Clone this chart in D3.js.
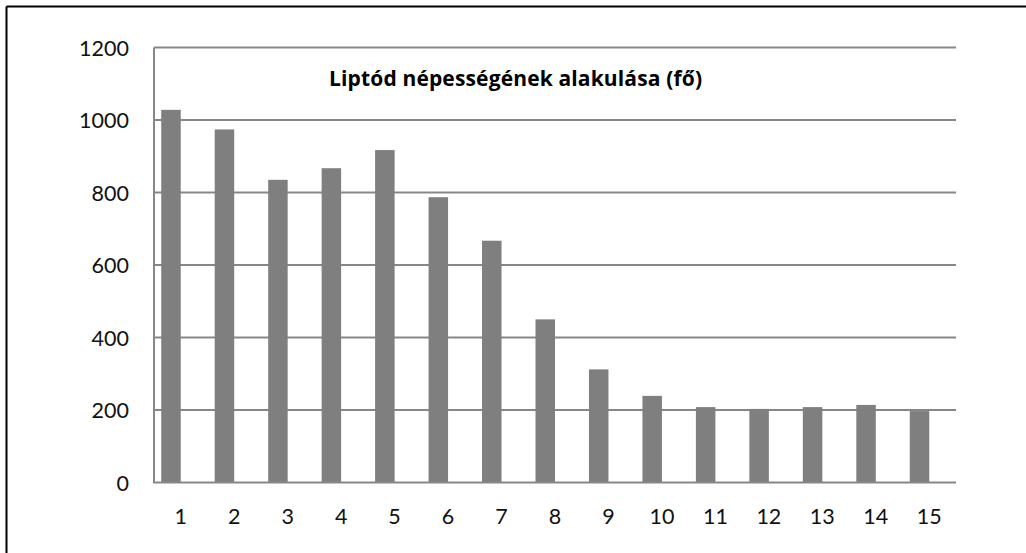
<!DOCTYPE html>
<html>
<head>
<meta charset="utf-8">
<script src="https://cdn.jsdelivr.net/npm/d3@7"></script>
<style>
  html, body { margin: 0; padding: 0; background: #fff; }
  svg { display: block; }
</style>
</head>
<body>
<svg id="chart" width="1026" height="553"></svg>
<script>
const title = "Liptód népességének alakulása (fő)";
const categories = ["1","2","3","4","5","6","7","8","9","10","11","12","13","14","15"];
const values = [1028, 974, 835, 867, 917, 787, 667, 450, 312, 239, 208, 203, 208, 214, 197];
const yTicks = [0, 200, 400, 600, 800, 1000, 1200];

const svg = d3.select("#chart");
const W = 1026, H = 553;
const m = { left: 154, right: 956, top: 47.5, bottom: 482.5 };
const font = "Lato, 'Open Sans', sans-serif";

// outer frame (top and left edges visible)
svg.append("line").attr("x1", 6.5).attr("x2", W).attr("y1", 6.5).attr("y2", 6.5)
  .attr("stroke", "#000").attr("stroke-width", 2);
svg.append("line").attr("x1", 6.5).attr("x2", 6.5).attr("y1", 6.5).attr("y2", H)
  .attr("stroke", "#000").attr("stroke-width", 2);

const x = d3.scaleBand().domain(categories).range([m.left, m.right]).padding(0);
const y = d3.scaleLinear().domain([0, 1200]).range([m.bottom, m.top]);

// gridlines
svg.append("g").selectAll("line").data(yTicks.filter(d => d > 0)).join("line")
  .attr("x1", m.left).attr("x2", m.right)
  .attr("y1", d => y(d)).attr("y2", d => y(d))
  .attr("stroke", "#878787").attr("stroke-width", 2);

// bars (right edge sits at category centre)
const bw = 19.5;
svg.append("g").selectAll("rect").data(values).join("rect")
  .attr("x", (d, i) => x(categories[i]) + x.bandwidth() / 2 - bw)
  .attr("width", bw)
  .attr("y", d => y(d))
  .attr("height", d => y(0) - y(d))
  .attr("fill", "#7f7f7f");

// axes lines
svg.append("line").attr("x1", m.left).attr("x2", m.left)
  .attr("y1", y(1200)).attr("y2", y(0))
  .attr("stroke", "#878787").attr("stroke-width", 2);
svg.append("line").attr("x1", m.left - 1).attr("x2", m.right)
  .attr("y1", y(0)).attr("y2", y(0))
  .attr("stroke", "#878787").attr("stroke-width", 2);

// y labels
const yAxis = d3.axisLeft(y).tickValues(yTicks).tickFormat(d3.format("d")).tickSize(0).tickPadding(0);
const gy = svg.append("g").attr("transform", `translate(129,0)`).call(yAxis);
gy.select(".domain").remove();
gy.selectAll("text").attr("font-family", font).attr("font-size", 21.5)
  .attr("fill", "#111").attr("dy", "0.36em").attr("text-anchor", "end").attr("x", 0);

// x labels
const xAxis = d3.axisBottom(x).tickSize(0).tickPadding(0);
const gx = svg.append("g").attr("transform", `translate(0,${y(0)})`).call(xAxis);
gx.select(".domain").remove();
gx.selectAll("text").attr("font-family", font).attr("font-size", 21.5)
  .attr("fill", "#111").attr("dy", 0).attr("y", 41.5);

// title
svg.append("text").attr("x", 329).attr("y", 86)
  .attr("font-family", "'Open Sans', Lato, sans-serif").attr("font-size", 21).attr("font-weight", "bold")
  .attr("textLength", 373).attr("lengthAdjust", "spacing")
  .attr("fill", "#000").text(title);
</script>
</body>
</html>
